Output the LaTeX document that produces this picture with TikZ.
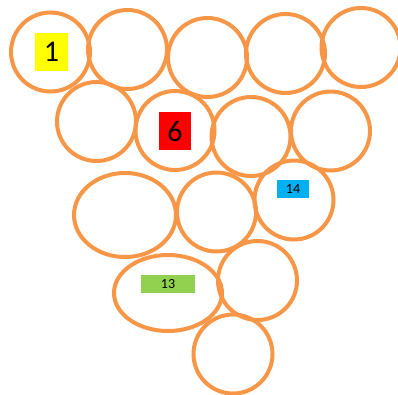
\documentclass[tikz,border=0pt]{standalone}
\usepackage{fontspec}
\setmainfont{Carlito}
\usetikzlibrary{shapes.geometric}
\definecolor{ringorange}{HTML}{F79646}
\definecolor{tagyellow}{HTML}{FFFF00}
\definecolor{tagred}{HTML}{FF0000}
\definecolor{tagblue}{HTML}{00B0F0}
\definecolor{taggreen}{HTML}{92D050}
\tikzset{
  ring/.style={circle,draw=ringorange,line width=4pt,inner sep=0pt,minimum size=#1},
  ring/.default=79pt,
  oval/.style 2 args={ellipse,draw=ringorange,line width=4pt,inner sep=0pt,minimum width=#1,minimum height=#2},
  tag/.style={inner sep=0pt,text=black},
}
\begin{document}
\begin{tikzpicture}[x=1pt,y=-1pt]
  \useasboundingbox (0,0) rectangle (398,394);
  % top row
  \node[ring] (r1) at (50.5,52) {};
  \node[ring] (r2) at (127.5,49.5) {};
  \node[ring] (r3) at (207.5,57.5) {};
  \node[ring] (r4) at (285.5,53.5) {};
  \node[ring] (r5) at (361,47.5) {};
  % second row
  \node[ring] (r6) at (96.5,121.5) {};
  \node[ring] (r7) at (175,130.5) {};
  \node[ring] (r8) at (251,136.5) {};
  \node[ring] (r9) at (330.5,131) {};
  % third row
  \node[oval={102pt}{84pt}] (r10) at (125,215) {};
  \node[ring] (r11) at (216.5,212) {};
  \node[ring] (r12) at (294,200) {};
  % fourth row
  \node[oval={108pt}{76pt}] (r13) at (168,293) {};
  \node[ring] (r14) at (257.5,280.5) {};
  % bottom
  \node[ring] (r15) at (233,354) {};
  % number tags
  \node[tag,fill=tagyellow,minimum width=33pt,minimum height=38pt,font=\fontsize{30}{30}\selectfont] (t1) at (51.5,52) {1};
  \node[tag,fill=tagred,minimum width=32pt,minimum height=38pt,font=\fontsize{30}{30}\selectfont] (t6) at (175,131) {6};
  \node[tag,fill=tagblue,minimum width=32pt,minimum height=18pt,font=\fontsize{14}{14}\selectfont] (t14) at (293,189) {14};
  \node[tag,fill=taggreen,minimum width=54pt,minimum height=18pt,font=\fontsize{14}{14}\selectfont] (t13) at (168,284) {13};
\end{tikzpicture}
\end{document}
